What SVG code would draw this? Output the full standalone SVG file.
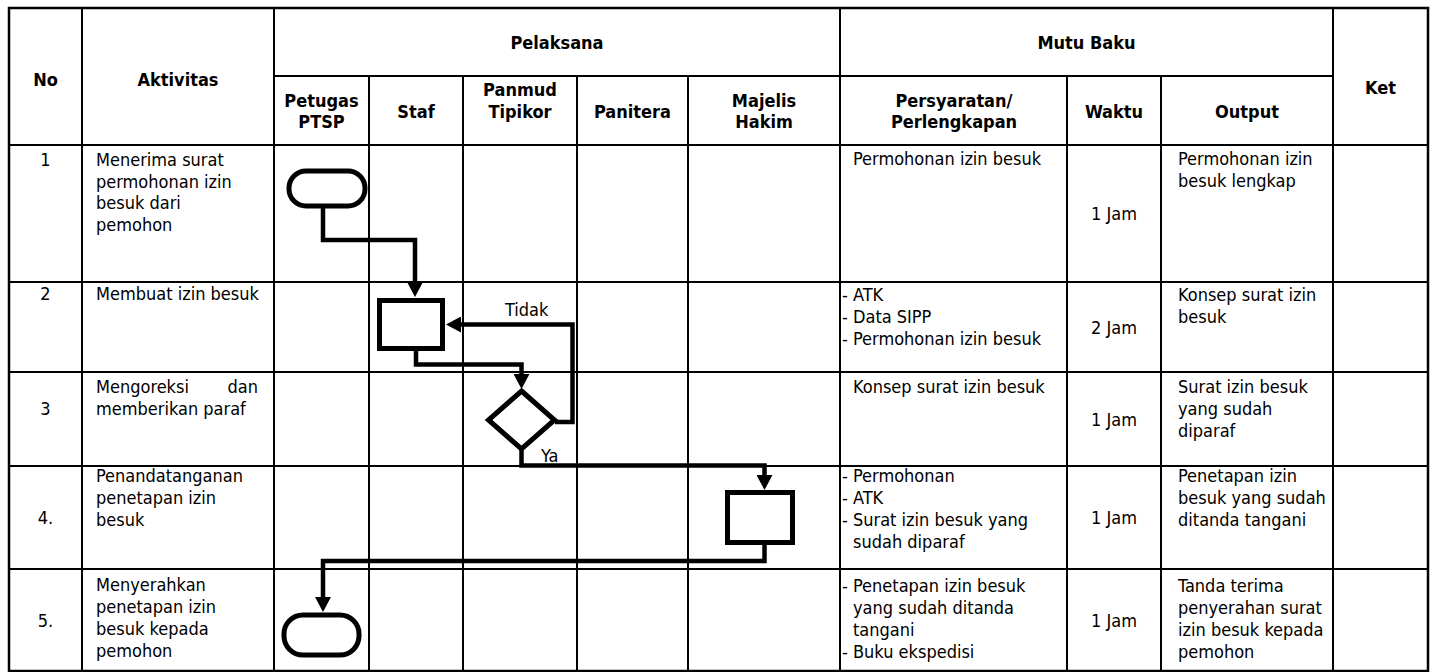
<svg xmlns="http://www.w3.org/2000/svg" width="1437" height="672" viewBox="0 0 1437 672">
<style>
text{font-family:'DejaVu Sans Condensed','DejaVu Sans',sans-serif;font-stretch:condensed;font-size:18px;fill:#000}
.h{font-weight:bold;text-anchor:middle}
.c{text-anchor:middle}
.e{text-anchor:end}
.g{stroke:#000;stroke-width:2;fill:none}
.o{stroke:#000;stroke-width:2.5;fill:none}
.sh{stroke:#000;stroke-width:5;fill:#fff}
.cn{stroke:#000;stroke-width:4.5;fill:none;stroke-linejoin:miter;stroke-linecap:butt}
</style>
<defs>
<marker id="ah" markerUnits="userSpaceOnUse" markerWidth="15" markerHeight="16" refX="1" refY="8" orient="auto" viewBox="0 0 15 16">
<path d="M0,0 L15,8 L0,16 Z" fill="#000"/>
</marker>
</defs>
<rect width="1437" height="672" fill="#fff"/>
<g id="table-grid">
<rect class="o" x="9" y="8" width="1419" height="663"/>
<path class="g" d="M274,76H1333 M9,145H1428 M9,282H1428 M9,372H1428 M9,466H1428 M9,569H1428"/>
<path class="g" d="M82,8V671 M274,8V671 M840,8V671 M1333,8V671 M369,76V671 M463,76V671 M577,76V671 M688,76V671 M1067,76V671 M1161,76V671"/>
</g>
<g id="header">
<text class="h" x="45.5" y="86">No</text>
<text class="h" x="178" y="86">Aktivitas</text>
<text class="h" x="557" y="49">Pelaksana</text>
<text class="h" x="1086.5" y="49">Mutu Baku</text>
<text class="h" x="1380.5" y="94">Ket</text>
<text class="h" x="321.5" y="107">Petugas</text>
<text class="h" x="321.5" y="128">PTSP</text>
<text class="h" x="416" y="118">Staf</text>
<text class="h" x="520" y="96">Panmud</text>
<text class="h" x="520" y="118">Tipikor</text>
<text class="h" x="632.5" y="118">Panitera</text>
<text class="h" x="764" y="107">Majelis</text>
<text class="h" x="764" y="128">Hakim</text>
<text class="h" x="954" y="107">Persyaratan/</text>
<text class="h" x="954" y="128">Perlengkapan</text>
<text class="h" x="1114" y="118">Waktu</text>
<text class="h" x="1247" y="118">Output</text>
</g>
<g id="row1">
<text class="c" x="45.5" y="166">1</text>
<text x="96" y="166">Menerima surat</text>
<text x="96" y="188">permohonan izin</text>
<text x="96" y="209">besuk dari</text>
<text x="96" y="231">pemohon</text>
<text x="853" y="165">Permohonan izin besuk</text>
<text class="c" x="1114" y="220">1 Jam</text>
<text x="1178" y="165">Permohonan izin</text>
<text x="1178" y="187">besuk lengkap</text>
</g>
<g id="row2">
<text class="c" x="45.5" y="300">2</text>
<text x="96" y="300">Membuat izin besuk</text>
<text x="842" y="301">- ATK</text>
<text x="842" y="323">- Data SIPP</text>
<text x="842" y="345">- Permohonan izin besuk</text>
<text class="c" x="1114" y="334">2 Jam</text>
<text x="1178" y="301">Konsep surat izin</text>
<text x="1178" y="323">besuk</text>
</g>
<g id="row3">
<text class="c" x="45.5" y="415">3</text>
<text x="96" y="393">Mengoreksi</text>
<text class="e" x="258" y="393">dan</text>
<text x="96" y="415">memberikan paraf</text>
<text x="853" y="393">Konsep surat izin besuk</text>
<text class="c" x="1114" y="426">1 Jam</text>
<text x="1178" y="393">Surat izin besuk</text>
<text x="1178" y="415">yang sudah</text>
<text x="1178" y="437">diparaf</text>
</g>
<g id="row4">
<text class="c" x="45.5" y="524">4.</text>
<text x="96" y="482">Penandatanganan</text>
<text x="96" y="504">penetapan izin</text>
<text x="96" y="526">besuk</text>
<text x="842" y="482">- Permohonan</text>
<text x="842" y="504">- ATK</text>
<text x="842" y="526">- Surat izin besuk yang</text>
<text x="853" y="548">sudah diparaf</text>
<text class="c" x="1114" y="524">1 Jam</text>
<text x="1178" y="482">Penetapan izin</text>
<text x="1178" y="504">besuk yang sudah</text>
<text x="1178" y="526">ditanda tangani</text>
</g>
<g id="row5">
<text class="c" x="45.5" y="627">5.</text>
<text x="96" y="591">Menyerahkan</text>
<text x="96" y="613">penetapan izin</text>
<text x="96" y="635">besuk kepada</text>
<text x="96" y="657">pemohon</text>
<text x="842" y="592">- Penetapan izin besuk</text>
<text x="853" y="614">yang sudah ditanda</text>
<text x="853" y="636">tangani</text>
<text x="842" y="658">- Buku ekspedisi</text>
<text class="c" x="1114" y="627">1 Jam</text>
<text x="1178" y="592">Tanda terima</text>
<text x="1178" y="614">penyerahan surat</text>
<text x="1178" y="636">izin besuk kepada</text>
<text x="1178" y="658">pemohon</text>
</g>
<g id="connectors">
<polyline class="cn" points="323,206 323,240 415,240 415,283" marker-end="url(#ah)"/>
<polyline class="cn" points="416,348 416,364.5 521.5,364.5 521.5,375" marker-end="url(#ah)"/>
<polyline class="cn" points="555,422 572.5,422 572.5,324.5 460,324.5" marker-end="url(#ah)"/>
<polyline class="cn" points="521.5,449 521.5,465.5 764.5,465.5 764.5,476" marker-end="url(#ah)"/>
<polyline class="cn" points="764.5,542 764.5,561 323,561 323,598" marker-end="url(#ah)"/>
<text x="505" y="316">Tidak</text>
<text x="541" y="462">Ya</text>
</g>
<g id="start">
<rect class="sh" x="289" y="171" width="76" height="35" rx="17"/>
</g>
<g id="buat-izin">
<rect class="sh" x="379.5" y="300.5" width="63" height="48"/>
</g>
<g id="koreksi">
<polygon class="sh" points="521.5,391 554.5,420 521.5,449 488.5,420"/>
</g>
<g id="tandatangan">
<rect class="sh" x="727.5" y="492.5" width="65" height="50"/>
</g>
<g id="end">
<rect class="sh" x="284" y="615" width="75" height="40" rx="19"/>
</g>
</svg>
